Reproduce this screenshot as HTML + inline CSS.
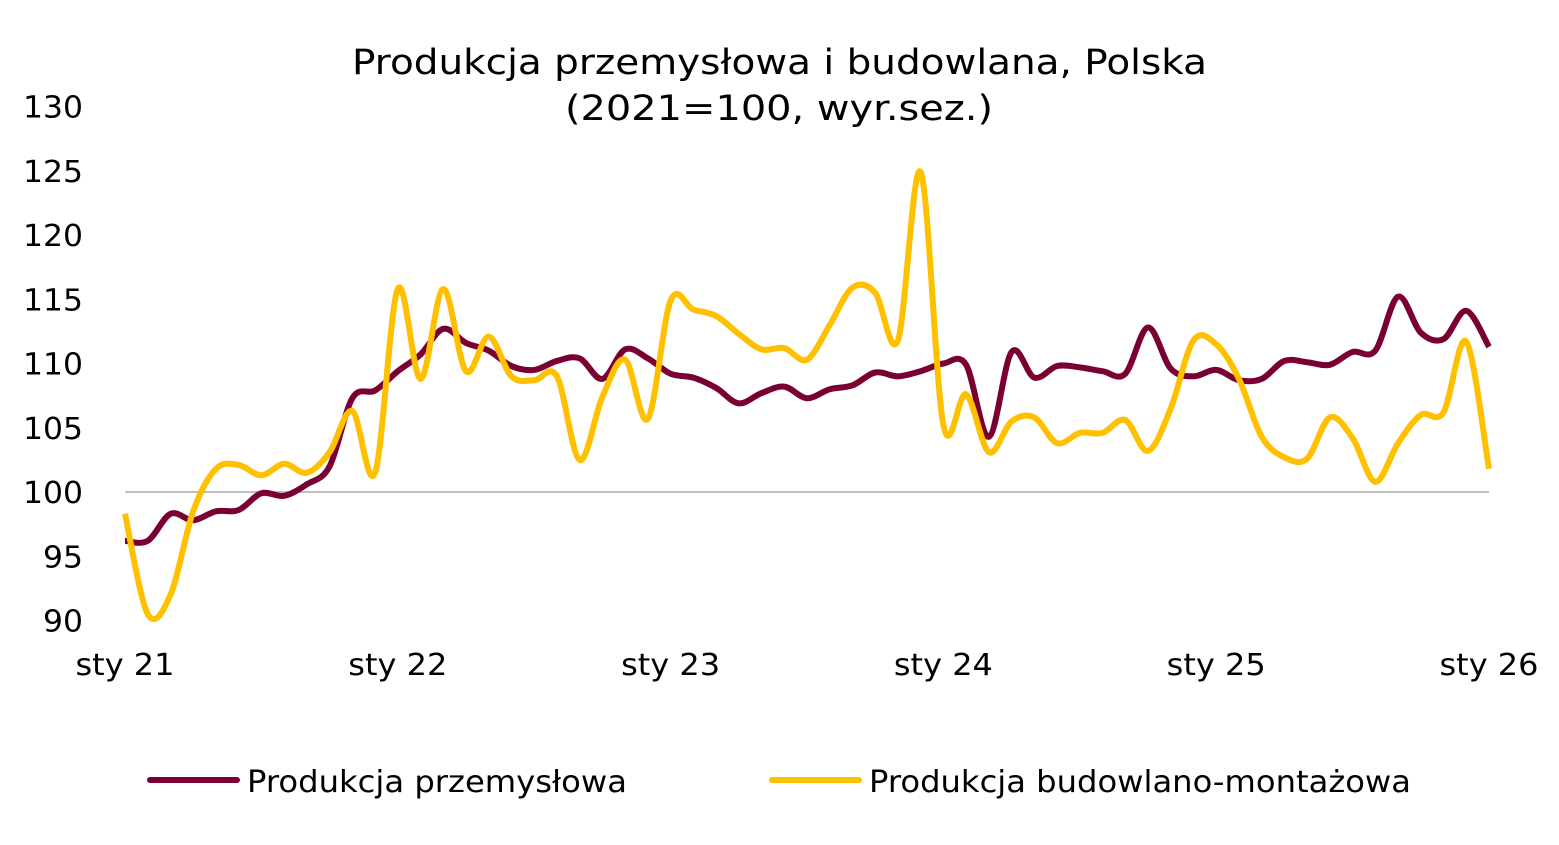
<!DOCTYPE html>
<html><head><meta charset="utf-8"><style>
body{margin:0;background:#fff;}
svg{display:block;font-family:"DejaVu Sans","Liberation Sans",sans-serif;}
</style></head><body>
<svg id="chart" width="1559" height="845" viewBox="0 0 1559 845">
<text x="352" y="74" textLength="855" lengthAdjust="spacingAndGlyphs" font-size="35" fill="#000">Produkcja przemysłowa i budowlana, Polska</text>
<text x="565" y="120" textLength="428" lengthAdjust="spacingAndGlyphs" font-size="35" fill="#000">(2021=100, wyr.sez.)</text>
<g id="yaxis"></g><g id="xaxis"></g><g id="series"></g>
<g>
<line x1="150" y1="780" x2="237" y2="780" stroke="#7a0034" stroke-width="6" stroke-linecap="round"/>
<text x="247" y="792" textLength="380" lengthAdjust="spacingAndGlyphs" font-size="30">Produkcja przemysłowa</text>
<line x1="772" y1="780" x2="859" y2="780" stroke="#ffc000" stroke-width="6" stroke-linecap="round"/>
<text x="869" y="792" textLength="542" lengthAdjust="spacingAndGlyphs" font-size="30">Produkcja budowlano-montażowa</text>
</g>
</svg>
<script>
const yTicks=[90,95,100,105,110,115,120,125,130];
const xTickLabels=["sty 21","sty 22","sty 23","sty 24","sty 25","sty 26"];
const industrial=[96.2,96.2,98.3,97.8,98.5,98.6,99.9,99.7,100.6,102.0,107.3,107.9,109.4,110.7,112.7,111.6,111.0,109.8,109.5,110.2,110.4,108.8,111.1,110.4,109.2,108.9,108.1,106.9,107.7,108.2,107.3,108.0,108.3,109.3,109.0,109.4,110.0,109.9,104.3,110.9,108.9,109.8,109.7,109.4,109.2,112.8,109.6,109.0,109.5,108.7,108.8,110.2,110.1,109.9,110.9,111.0,115.2,112.4,111.9,114.1,111.3];
const construction=[98.3,90.5,92.0,98.5,101.8,102.1,101.3,102.2,101.5,103.1,106.3,101.5,115.8,108.8,115.8,109.4,112.1,109.0,108.7,109.0,102.5,107.4,110.3,105.7,114.9,114.2,113.7,112.3,111.1,111.2,110.3,113.0,115.9,115.5,111.8,124.9,105.2,107.6,103.1,105.5,105.8,103.8,104.6,104.6,105.6,103.2,106.5,111.8,111.5,108.8,104.3,102.7,102.6,105.8,104.2,100.8,103.8,106.0,106.2,111.7,101.8];
const NS="http://www.w3.org/2000/svg";
const x0=125,x1=1489,n=industrial.length-1;
const X=i=>x0+(x1-x0)*i/n;
const Y=v=>492-(v-100)*12.85;
function mk(t,a,p){const e=document.createElementNS(NS,t);for(const k in a)e.setAttribute(k,a[k]);p.appendChild(e);return e;}
const ya=document.getElementById('yaxis');
yTicks.forEach(v=>{const s=String(v);const t=mk('text',{x:83,y:Y(v)+11,'text-anchor':'end','font-size':30,textLength:s.length*20,lengthAdjust:'spacingAndGlyphs'},ya);t.textContent=s;

});
const base=mk('line',{x1:x0,x2:x1,y1:Y(100),y2:Y(100),stroke:'#bfbfbf','stroke-width':2},ya);


const xa=document.getElementById('xaxis');
xTickLabels.forEach((l,k)=>{const t=mk('text',{x:X(k*12),y:675,'text-anchor':'middle','font-size':30,textLength:99,lengthAdjust:'spacingAndGlyphs'},xa);t.textContent=l;

});
function path(vals){const p=vals.map((v,i)=>[X(i),Y(v)]);let d=`M${p[0][0]},${p[0][1]}`;
for(let i=0;i<p.length-1;i++){const a=p[Math.max(0,i-1)],b=p[i],c=p[i+1],e=p[Math.min(p.length-1,i+2)];
d+=` C${b[0]+(c[0]-a[0])/6},${b[1]+(c[1]-a[1])/6} ${c[0]-(e[0]-b[0])/6},${c[1]-(e[1]-b[1])/6} ${c[0]},${c[1]}`;}return d;}
const sg=document.getElementById('series');
const l2=mk('path',{d:path(industrial),fill:'none',stroke:'#7a0034','stroke-width':6,'stroke-linejoin':'round'},sg);


const l1=mk('path',{d:path(construction),fill:'none',stroke:'#ffc000','stroke-width':6,'stroke-linejoin':'round'},sg);


</script>
</body></html>
